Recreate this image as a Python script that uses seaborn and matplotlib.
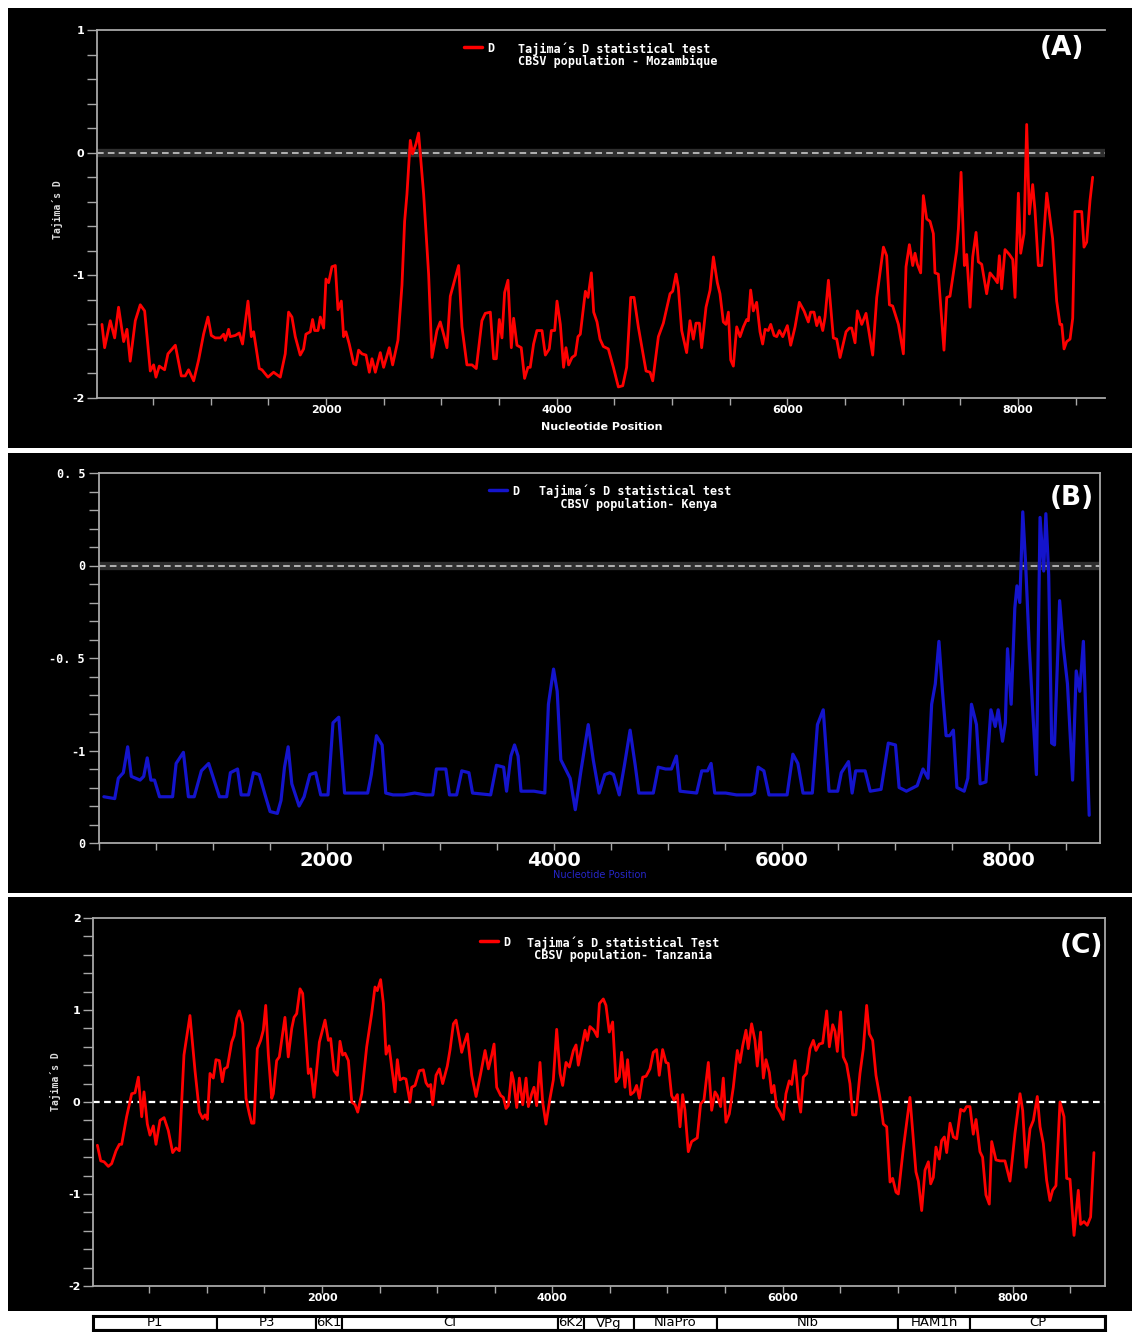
import matplotlib
matplotlib.use("Agg")
import matplotlib.pyplot as plt
from matplotlib.lines import Line2D
from matplotlib.ticker import MultipleLocator, FixedLocator, FixedFormatter
import seaborn as sns

# ---- data ----
# (A) Mozambique
moz_pos = [58, 81, 130, 168, 202, 246, 275, 303, 347, 390,
           428, 477, 506, 526, 555, 601, 630, 694, 746, 780,
           809, 853, 896, 939, 977, 1006, 1040, 1084, 1113, 1127,
           1156, 1170, 1214, 1248, 1277, 1324, 1353, 1373, 1422, 1445,
           1497, 1546, 1604, 1647, 1676, 1705, 1734, 1777, 1806, 1826,
           1864, 1884, 1902, 1931, 1951, 1980, 2000, 2023, 2052, 2081,
           2104, 2133, 2153, 2173, 2202, 2240, 2260, 2283, 2312, 2347,
           2376, 2399, 2428, 2471, 2500, 2549, 2578, 2624, 2659, 2682,
           2702, 2731, 2751, 2780, 2803, 2847, 2890, 2919, 2962, 2991,
           3020, 3049, 3078, 3107, 3150, 3179, 3222, 3266, 3303, 3352,
           3381, 3425, 3454, 3477, 3503, 3526, 3549, 3578, 3607, 3627,
           3656, 3693, 3722, 3751, 3771, 3800, 3829, 3873, 3902, 3936,
           3954, 3983, 4003, 4032, 4060, 4081, 4104, 4133, 4162, 4185,
           4205, 4249, 4272, 4301, 4321, 4350, 4376, 4405, 4448, 4492,
           4535, 4573, 4607, 4642, 4671, 4708, 4775, 4810, 4833, 4882,
           4925, 4983, 5006, 5035, 5055, 5084, 5127, 5156, 5185, 5208,
           5237, 5257, 5295, 5330, 5359, 5393, 5416, 5445, 5468, 5489,
           5509, 5532, 5561, 5590, 5619, 5648, 5662, 5682, 5705, 5734,
           5763, 5786, 5807, 5835, 5856, 5885, 5908, 5931, 5960, 6000,
           6029, 6067, 6104, 6145, 6182, 6202, 6231, 6255, 6278, 6307,
           6327, 6356, 6399, 6428, 6457, 6509, 6538, 6558, 6587, 6607,
           6645, 6682, 6740, 6775, 6833, 6861, 6885, 6913, 6963, 7006,
           7029, 7058, 7087, 7107, 7127, 7156, 7179, 7208, 7237, 7266,
           7280, 7309, 7358, 7382, 7410, 7468, 7483, 7506, 7535, 7555,
           7584, 7607, 7636, 7656, 7685, 7728, 7757, 7800, 7821, 7838,
           7858, 7887, 7925, 7954, 7974, 8003, 8023, 8052, 8075, 8098,
           8127, 8147, 8176, 8205, 8249, 8300, 8335, 8364, 8379, 8399,
           8422, 8451, 8474, 8494, 8552, 8572, 8595, 8624, 8647]
moz_d = [-1.40, -1.59, -1.37, -1.51, -1.26, -1.54, -1.44, -1.70, -1.37, -1.24,
         -1.29, -1.78, -1.73, -1.83, -1.74, -1.77, -1.64, -1.57, -1.82, -1.82,
         -1.77, -1.86, -1.69, -1.48, -1.34, -1.49, -1.51, -1.51, -1.48, -1.53,
         -1.44, -1.50, -1.49, -1.47, -1.56, -1.21, -1.50, -1.46, -1.76, -1.77,
         -1.83, -1.79, -1.83, -1.64, -1.30, -1.34, -1.50, -1.65, -1.60, -1.48,
         -1.46, -1.36, -1.45, -1.45, -1.34, -1.43, -1.03, -1.06, -0.93, -0.92,
         -1.28, -1.21, -1.50, -1.46, -1.56, -1.72, -1.73, -1.61, -1.64, -1.65,
         -1.79, -1.68, -1.79, -1.63, -1.75, -1.59, -1.73, -1.53, -1.08, -0.56,
         -0.34, 0.10, -0.01, 0.07, 0.16, -0.34, -0.99, -1.67, -1.45, -1.38,
         -1.48, -1.59, -1.17, -1.07, -0.92, -1.42, -1.73, -1.73, -1.76, -1.37,
         -1.31, -1.30, -1.68, -1.68, -1.36, -1.51, -1.14, -1.04, -1.59, -1.35,
         -1.57, -1.59, -1.84, -1.75, -1.75, -1.56, -1.45, -1.45, -1.65, -1.60,
         -1.45, -1.45, -1.21, -1.40, -1.75, -1.59, -1.73, -1.67, -1.65, -1.50,
         -1.48, -1.13, -1.18, -0.98, -1.30, -1.38, -1.52, -1.58, -1.60, -1.75,
         -1.91, -1.90, -1.75, -1.18, -1.18, -1.42, -1.78, -1.79, -1.86, -1.50,
         -1.39, -1.15, -1.13, -0.99, -1.10, -1.45, -1.63, -1.37, -1.52, -1.39,
         -1.39, -1.59, -1.26, -1.12, -0.85, -1.06, -1.15, -1.38, -1.40, -1.30,
         -1.69, -1.74, -1.42, -1.50, -1.42, -1.36, -1.37, -1.12, -1.29, -1.22,
         -1.46, -1.56, -1.44, -1.45, -1.40, -1.49, -1.50, -1.45, -1.50, -1.41,
         -1.57, -1.42, -1.22, -1.29, -1.38, -1.30, -1.30, -1.41, -1.34, -1.45,
         -1.34, -1.04, -1.51, -1.52, -1.67, -1.46, -1.43, -1.43, -1.55, -1.29,
         -1.40, -1.31, -1.65, -1.18, -0.77, -0.84, -1.24, -1.25, -1.40, -1.64,
         -0.93, -0.75, -0.92, -0.82, -0.91, -0.98, -0.35, -0.54, -0.56, -0.66,
         -0.98, -0.99, -1.61, -1.18, -1.17, -0.80, -0.62, -0.16, -0.92, -0.83,
         -1.26, -0.85, -0.65, -0.89, -0.91, -1.15, -0.98, -1.03, -1.06, -0.84,
         -1.11, -0.79, -0.83, -0.87, -1.18, -0.33, -0.82, -0.66, 0.23, -0.50,
         -0.26, -0.47, -0.92, -0.92, -0.33, -0.70, -1.21, -1.40, -1.40, -1.60,
         -1.54, -1.52, -1.35, -0.48, -0.48, -0.77, -0.73, -0.39, -0.20]

# (B) Kenya
ken_pos = [43, 138, 170, 214, 252, 284, 361, 393, 424, 456,
           488, 532, 647, 678, 742, 786, 837, 869, 900, 932,
           964, 996, 1059, 1122, 1155, 1218, 1250, 1314, 1358, 1409,
           1460, 1504, 1568, 1600, 1631, 1663, 1695, 1759, 1803, 1854,
           1905, 1949, 2013, 2057, 2108, 2159, 2203, 2267, 2362, 2394,
           2439, 2489, 2521, 2585, 2680, 2775, 2871, 2934, 2966, 3049,
           3081, 3144, 3189, 3252, 3284, 3443, 3494, 3557, 3583, 3621,
           3653, 3684, 3710, 3824, 3919, 3951, 3996, 4028, 4060, 4142,
           4187, 4237, 4301, 4345, 4396, 4447, 4491, 4523, 4574, 4619,
           4669, 4714, 4746, 4873, 4917, 4981, 5032, 5076, 5108, 5254,
           5299, 5350, 5381, 5413, 5509, 5604, 5731, 5763, 5795, 5845,
           5890, 6049, 6100, 6144, 6189, 6271, 6316, 6367, 6418, 6494,
           6526, 6589, 6621, 6652, 6735, 6780, 6875, 6939, 7002, 7034,
           7098, 7193, 7244, 7288, 7320, 7352, 7384, 7415, 7447, 7479,
           7511, 7542, 7606, 7638, 7670, 7714, 7746, 7797, 7841, 7879,
           7905, 7943, 7968, 7987, 8019, 8051, 8070, 8095, 8121, 8146,
           8178, 8210, 8241, 8273, 8305, 8324, 8349, 8375, 8400, 8445,
           8476, 8514, 8559, 8591, 8622, 8654, 8705]
ken_d = [-1.25, -1.26, -1.15, -1.12, -0.98, -1.14, -1.16, -1.14, -1.04, -1.16,
         -1.16, -1.25, -1.25, -1.07, -1.01, -1.25, -1.25, -1.18, -1.11, -1.09,
         -1.07, -1.13, -1.25, -1.25, -1.12, -1.10, -1.24, -1.24, -1.12, -1.13,
         -1.24, -1.33, -1.34, -1.27, -1.09, -0.98, -1.18, -1.30, -1.25, -1.13,
         -1.12, -1.24, -1.24, -0.85, -0.82, -1.23, -1.23, -1.23, -1.23, -1.13,
         -0.92, -0.97, -1.23, -1.24, -1.24, -1.23, -1.24, -1.24, -1.10, -1.10,
         -1.24, -1.24, -1.11, -1.12, -1.23, -1.24, -1.08, -1.09, -1.22, -1.03,
         -0.97, -1.03, -1.22, -1.22, -1.23, -0.75, -0.56, -0.68, -1.05, -1.15,
         -1.32, -1.11, -0.86, -1.05, -1.23, -1.13, -1.12, -1.13, -1.24, -1.08,
         -0.89, -1.08, -1.23, -1.23, -1.09, -1.10, -1.10, -1.03, -1.22, -1.23,
         -1.11, -1.11, -1.07, -1.23, -1.23, -1.24, -1.24, -1.23, -1.09, -1.11,
         -1.24, -1.24, -1.02, -1.07, -1.23, -1.23, -0.86, -0.78, -1.22, -1.22,
         -1.12, -1.06, -1.23, -1.11, -1.11, -1.22, -1.21, -0.96, -0.97, -1.20,
         -1.22, -1.19, -1.10, -1.15, -0.75, -0.64, -0.41, -0.68, -0.92, -0.92,
         -0.89, -1.20, -1.22, -1.15, -0.75, -0.86, -1.18, -1.17, -0.78, -0.87,
         -0.78, -0.95, -0.85, -0.45, -0.75, -0.23, -0.11, -0.20, 0.29, 0.01,
         -0.44, -0.80, -1.13, 0.26, -0.03, 0.28, -0.05, -0.96, -0.97, -0.19,
         -0.43, -0.64, -1.16, -0.57, -0.68, -0.41, -1.35]

# (C) Tanzania
tza_pos = [49, 78, 107, 144, 173, 211, 240, 260, 303, 347,
           376, 405, 434, 454, 483, 506, 535, 558, 593, 628,
           665, 703, 732, 761, 801, 853, 897, 935, 964, 984,
           1004, 1027, 1056, 1079, 1108, 1134, 1152, 1178, 1215, 1236,
           1259, 1282, 1311, 1340, 1369, 1389, 1409, 1438, 1467, 1490,
           1511, 1534, 1563, 1577, 1606, 1629, 1678, 1707, 1737, 1757,
           1780, 1809, 1832, 1861, 1881, 1902, 1930, 1977, 2026, 2055,
           2075, 2104, 2133, 2156, 2179, 2200, 2229, 2258, 2287, 2310,
           2345, 2388, 2431, 2460, 2480, 2509, 2533, 2556, 2582, 2605,
           2634, 2654, 2677, 2706, 2729, 2764, 2779, 2808, 2845, 2880,
           2903, 2923, 2944, 2961, 2990, 3019, 3048, 3088, 3112, 3141,
           3164, 3193, 3213, 3233, 3262, 3300, 3338, 3378, 3416, 3445,
           3474, 3494, 3517, 3552, 3575, 3598, 3618, 3647, 3662, 3691,
           3714, 3743, 3772, 3792, 3821, 3841, 3864, 3893, 3916, 3945,
           3980, 4009, 4038, 4067, 4090, 4119, 4148, 4183, 4206, 4226,
           4255, 4284, 4304, 4327, 4362, 4391, 4409, 4443, 4466, 4495,
           4524, 4553, 4582, 4602, 4631, 4654, 4680, 4709, 4732, 4756,
           4785, 4814, 4848, 4877, 4906, 4929, 4958, 4987, 5007, 5036,
           5057, 5086, 5109, 5132, 5152, 5181, 5210, 5259, 5288, 5317,
           5355, 5384, 5413, 5433, 5462, 5485, 5508, 5537, 5572, 5607,
           5630, 5653, 5682, 5702, 5731, 5760, 5780, 5809, 5833, 5856,
           5885, 5905, 5925, 5948, 5977, 6006, 6029, 6058, 6079, 6108,
           6137, 6157, 6180, 6209, 6238, 6267, 6290, 6319, 6348, 6383,
           6406, 6435, 6455, 6475, 6504, 6527, 6556, 6585, 6608, 6637,
           6672, 6701, 6730, 6753, 6782, 6811, 6846, 6875, 6904, 6933,
           6956, 6985, 7005, 7048, 7106, 7158, 7179, 7208, 7237, 7266,
           7286, 7309, 7332, 7361, 7381, 7405, 7425, 7454, 7483, 7512,
           7546, 7575, 7598, 7627, 7656, 7680, 7714, 7737, 7766, 7795,
           7816, 7853, 7888, 7931, 7975, 8018, 8062, 8085, 8114, 8149,
           8178, 8212, 8236, 8264, 8293, 8322, 8345, 8374, 8409, 8444,
           8467, 8496, 8531, 8568, 8588, 8617, 8646, 8675, 8704]
tza_d = [-0.47, -0.64, -0.65, -0.70, -0.67, -0.53, -0.46, -0.46, -0.16, 0.09,
         0.10, 0.27, -0.16, 0.11, -0.24, -0.36, -0.26, -0.46, -0.20, -0.17,
         -0.31, -0.55, -0.50, -0.53, 0.51, 0.94, 0.34, -0.11, -0.18, -0.14,
         -0.19, 0.31, 0.26, 0.46, 0.45, 0.22, 0.36, 0.38, 0.65, 0.72,
         0.91, 0.99, 0.85, 0.04, -0.13, -0.23, -0.23, 0.58, 0.67, 0.78,
         1.05, 0.51, 0.04, 0.09, 0.45, 0.49, 0.92, 0.49, 0.80, 0.92,
         0.96, 1.23, 1.18, 0.68, 0.31, 0.36, 0.05, 0.65, 0.89, 0.67,
         0.69, 0.34, 0.29, 0.66, 0.51, 0.53, 0.45, 0.00, -0.03, -0.11,
         0.09, 0.60, 0.96, 1.25, 1.21, 1.33, 1.07, 0.52, 0.61, 0.38,
         0.11, 0.46, 0.24, 0.26, 0.25, 0.00, 0.16, 0.18, 0.34, 0.35,
         0.21, 0.17, 0.19, -0.03, 0.29, 0.36, 0.20, 0.39, 0.57, 0.85,
         0.89, 0.69, 0.54, 0.63, 0.74, 0.29, 0.06, 0.31, 0.56, 0.36,
         0.51, 0.63, 0.16, 0.07, 0.05, -0.07, -0.04, 0.32, 0.24, -0.06,
         0.26, -0.03, 0.26, -0.05, 0.09, 0.16, -0.04, 0.43, 0.00, -0.24,
         0.04, 0.24, 0.79, 0.31, 0.18, 0.43, 0.38, 0.56, 0.62, 0.40,
         0.59, 0.78, 0.67, 0.82, 0.78, 0.71, 1.07, 1.12, 1.05, 0.76,
         0.87, 0.22, 0.27, 0.54, 0.16, 0.46, 0.08, 0.11, 0.18, 0.04,
         0.27, 0.28, 0.36, 0.54, 0.57, 0.29, 0.57, 0.43, 0.42, 0.07,
         0.02, 0.08, -0.27, 0.08, -0.09, -0.54, -0.43, -0.39, -0.02, 0.02,
         0.43, -0.09, 0.11, 0.07, -0.05, 0.26, -0.22, -0.13, 0.16, 0.56,
         0.43, 0.61, 0.78, 0.58, 0.85, 0.67, 0.39, 0.76, 0.26, 0.46,
         0.32, 0.10, 0.18, -0.05, -0.11, -0.19, 0.09, 0.23, 0.19, 0.45,
         0.05, -0.11, 0.27, 0.31, 0.58, 0.67, 0.56, 0.63, 0.64, 0.99,
         0.60, 0.84, 0.77, 0.55, 0.98, 0.49, 0.41, 0.20, -0.14, -0.14,
         0.31, 0.58, 1.05, 0.74, 0.67, 0.29, 0.04, -0.24, -0.27, -0.87,
         -0.83, -0.98, -1.00, -0.51, 0.05, -0.76, -0.86, -1.18, -0.74, -0.65,
         -0.89, -0.82, -0.49, -0.62, -0.42, -0.38, -0.55, -0.23, -0.38, -0.40,
         -0.08, -0.10, -0.05, -0.05, -0.35, -0.19, -0.54, -0.60, -1.01, -1.11,
         -0.43, -0.63, -0.64, -0.64, -0.86, -0.34, 0.09, -0.09, -0.71, -0.29,
         -0.20, 0.06, -0.27, -0.45, -0.85, -1.07, -0.96, -0.91, 0.00, -0.16,
         -0.83, -0.84, -1.45, -0.96, -1.33, -1.30, -1.34, -1.25, -0.55]

# genome map under panel C
gene_names = ["P1", "P3", "6K1", "CI", "6K2", "VPg", "NIaPro", "NIb", "HAM1h", "CP"]
gene_start = [11, 1088, 1948, 2174, 4049, 4275, 4709, 5430, 7002, 7627]
gene_end = [1088, 1948, 2174, 4049, 4275, 4709, 5430, 7002, 7627, 8800]

W, H = 1132, 1332

MONO = {'family': 'DejaVu Sans Mono', 'weight': 'bold'}
NARROW = ['Liberation Sans Narrow', 'DejaVu Sans']


def rect(x0, y0, x1, y1):
    return [x0 / W, 1 - y1 / H, (x1 - x0) / W, (y1 - y0) / H]


def fx(px):
    return px / W


def fy(py):
    return 1 - py / H


def style_axes(ax, xlim, ylim, ystep, yminor, right=True):
    ax.set_facecolor('black')
    ax.set_xlim(xlim)
    ax.set_ylim(ylim)
    ax.xaxis.set_major_locator(FixedLocator([2000, 4000, 6000, 8000]))
    ax.xaxis.set_minor_locator(MultipleLocator(500))
    ax.yaxis.set_major_locator(MultipleLocator(ystep))
    ax.yaxis.set_minor_locator(MultipleLocator(yminor))
    for s in ax.spines.values():
        s.set_color('#a8a8a8')
        s.set_linewidth(1.3)
    ax.spines['right'].set_visible(right)
    ax.tick_params(which='both', colors='#a8a8a8', direction='out',
                   length=7, width=1, labelcolor='white')
    ax.tick_params(axis='x', which='both', length=5)
    ax.set_xlabel('')
    ax.set_ylabel('')


def zero_line(ax, band=True):
    if band:
        ax.axhline(0, color='#2e2e2e', lw=6, zorder=1)
        ax.axhline(0, color='#c8c8c8', lw=1.2, ls=(0, (4, 2.5)), zorder=2)
    else:
        ax.axhline(0, color='white', lw=1.6, ls=(0, (3, 2)), zorder=2)


def legend(color, x_line, y, x_text, lines):
    # legend handle + "D", then the two-line caption in one monospace block
    fig.legend(handles=[Line2D([], [], color=color, lw=2.5)], labels=['D'],
               loc='center left', bbox_to_anchor=(fx(x_line), fy(y)),
               frameon=False, handlelength=1.5, handletextpad=0.5,
               borderpad=0, borderaxespad=0, labelcolor='white',
               prop={**MONO, 'size': 8.5})
    fig.text(fx(x_text), fy(y - 6), lines, color='white', va='top', ha='left',
             fontdict=MONO, fontsize=8.5, linespacing=0.95)


sns.set_style("ticks")
plt.rcParams['axes.unicode_minus'] = False

fig = plt.figure(figsize=(W / 100, H / 100), dpi=100, facecolor='white')

# black panel backgrounds
for y0, y1 in [(8, 448), (453, 893), (897, 1311)]:
    bg = fig.add_axes(rect(8, y0, 1132, y1))
    bg.set_facecolor('black')
    bg.set_xticks([])
    bg.set_yticks([])
    for s in bg.spines.values():
        s.set_visible(False)

# ---- (A) ----
axA = fig.add_axes(rect(97, 30, 1105, 398))
zero_line(axA)
sns.lineplot(x=moz_pos, y=moz_d, ax=axA, color='#ff0000', linewidth=2,
             estimator=None, zorder=3)
style_axes(axA, (15, 8754), (-2, 1), 1, 0.2, right=False)
axA.tick_params(axis='both', which='major', labelsize=8, pad=2)
axA.tick_params(axis='x', which='major', pad=0)
for t in axA.get_xticklabels() + axA.get_yticklabels():
    t.set_fontweight('bold')
fig.text(fx(602), fy(427), 'Nucleotide Position', color='white', ha='center',
         va='center', family=NARROW, fontweight='bold', fontsize=8)
fig.text(fx(57), fy(210), 'Tajima´s D', color='#dddddd', rotation=90,
         ha='center', va='center', fontdict=MONO, fontsize=7)
legend('#ff0000', 464, 48, 518,
       'Tajima´s D statistical test\nCBSV population - Mozambique')
fig.text(fx(1062), fy(48), '(A)', color='white', ha='center', va='center',
         fontsize=19, fontweight='bold')

# ---- (B) ----
axB = fig.add_axes(rect(99, 473, 1100, 843))
zero_line(axB)
sns.lineplot(x=ken_pos, y=ken_d, ax=axB, color='#1414cc', linewidth=2.3,
             estimator=None, zorder=3)
style_axes(axB, (0, 8800), (-1.5, 0.5), 0.5, 0.1)
axB.yaxis.set_major_locator(FixedLocator([-1.5, -1.0, -0.5, 0.0, 0.5]))
axB.yaxis.set_major_formatter(FixedFormatter(['0', '-1', '-0. 5', '0', '0. 5']))
axB.tick_params(axis='x', which='major', labelsize=14, pad=1)
axB.tick_params(axis='y', which='major', labelsize=8.5, pad=3)
for t in axB.get_xticklabels():
    t.set_fontweight('bold')
for t in axB.get_yticklabels():
    t.set_fontfamily('DejaVu Sans Mono')
    t.set_fontweight('bold')
fig.text(fx(600), fy(875), 'Nucleotide Position', color='#2626c8', ha='center',
         va='center', family=NARROW, fontsize=7)
legend('#1414cc', 489, 491, 539,
       'Tajima´s D statistical test\n   CBSV population- Kenya')
fig.text(fx(1072), fy(498), '(B)', color='white', ha='center', va='center',
         fontsize=19, fontweight='bold')

# ---- (C) ----
axC = fig.add_axes(rect(93, 918, 1105, 1286))
zero_line(axC, band=False)
sns.lineplot(x=tza_pos, y=tza_d, ax=axC, color='#ff0000', linewidth=2,
             estimator=None, zorder=3)
style_axes(axC, (11, 8800), (-2, 2), 1, 0.2)
axC.tick_params(axis='both', which='major', labelsize=8, pad=2)
axC.tick_params(axis='x', which='major', pad=0)
for t in axC.get_xticklabels() + axC.get_yticklabels():
    t.set_fontweight('bold')
fig.text(fx(55), fy(1082), 'Tajima´s D', color='#dddddd', rotation=90,
         ha='center', va='center', fontdict=MONO, fontsize=7)
legend('#ff0000', 480, 942, 527,
       'Tajima´s D statistical Test\n CBSV population- Tanzania')
fig.text(fx(1081), fy(946), '(C)', color='white', ha='center', va='center',
         fontsize=19, fontweight='bold')

# ---- genome map ----
axG = fig.add_axes(rect(93, 1316, 1105, 1330))
axG.barh([0] * len(gene_names), [e - s for s, e in zip(gene_start, gene_end)],
         left=gene_start, height=1, color='white', edgecolor='black', linewidth=1.5)
for name, s, e in zip(gene_names, gene_start, gene_end):
    axG.text((s + e) / 2, 0, name, ha='center', va='center', color='black',
             family=NARROW, fontsize=9.5)
axG.set_xlim(11, 8800)
axG.set_ylim(-0.5, 0.5)
axG.set_xticks([])
axG.set_yticks([])
for s in axG.spines.values():
    s.set_color('black')
    s.set_linewidth(2.2)

fig.savefig('out.png', dpi=100, facecolor='white')
